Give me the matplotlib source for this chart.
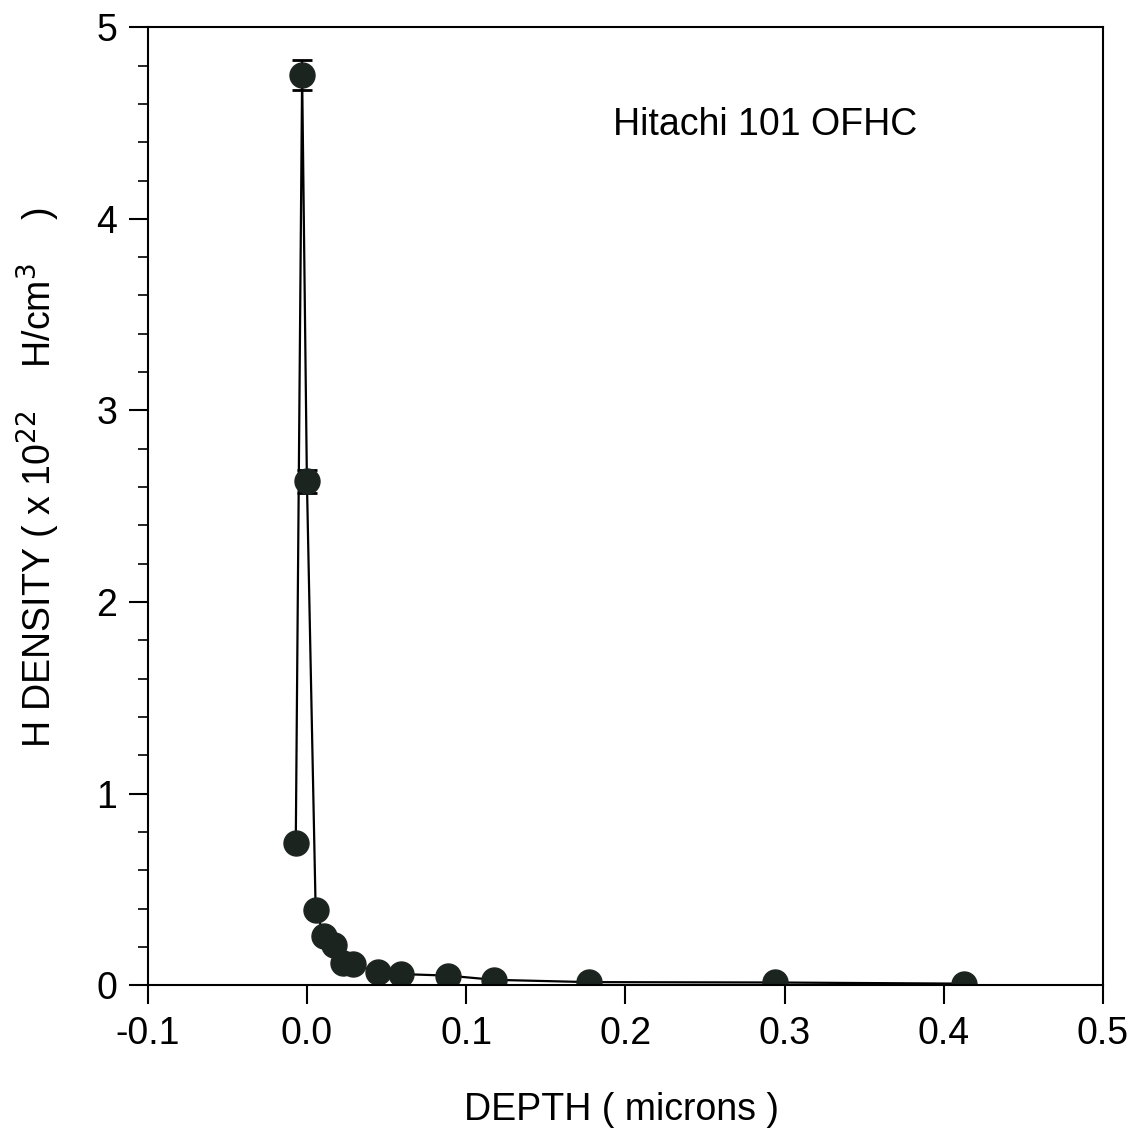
import numpy as np
import matplotlib.pyplot as plt
from matplotlib.ticker import MultipleLocator

plt.rcParams['font.family'] = ['Liberation Sans', 'DejaVu Sans']

# depth (microns) and H density (x 1e22 H/cm^3), in plotted order
depth = [-0.007, -0.003, 0.0, 0.0055, 0.011, 0.017, 0.0225, 0.029,
         0.0445, 0.059, 0.0885, 0.1175, 0.177, 0.294, 0.4125]
density = [0.74, 4.75, 2.63, 0.39, 0.256, 0.21, 0.115, 0.11,
           0.068, 0.058, 0.05, 0.028, 0.016, 0.014, 0.008]
# error bars only visible on the two top points
err_x = [-0.003, 0.0]
err_y = [4.75, 2.63]
err = [0.08, 0.06]

fig = plt.figure(figsize=(11.36, 11.35), dpi=100)
ax = fig.add_axes([0.130, 0.132, 0.841, 0.844])

ax.errorbar(err_x, err_y, yerr=err, fmt='none', ecolor='black',
            elinewidth=1.6, capsize=7.5, capthick=2)
ax.plot(depth, density, color='black', lw=1.6,
        marker='o', ms=18, mfc='#1c2420', mec='#1c2420')

ax.set_xlim(-0.1, 0.5)
ax.set_ylim(0, 5)
ax.yaxis.set_major_locator(MultipleLocator(1))
ax.yaxis.set_minor_locator(MultipleLocator(0.2))
ax.set_xticks(np.arange(-0.1, 0.51, 0.1))
ax.set_xticklabels(['-0.1', '0.0', '0.1', '0.2', '0.3', '0.4', '0.5'])

ax.tick_params(which='major', direction='out', length=14, width=1.5,
               labelsize=27, pad=8)
ax.tick_params(which='minor', direction='out', length=7, width=1.2)
for s in ax.spines.values():
    s.set_linewidth(1.5)

ax.set_xlabel('DEPTH ( microns )', fontsize=27)
ax.xaxis.set_label_coords(0.496, -0.112)
ax.set_ylabel(r'H DENSITY ( x 10$^{\mathsf{22}}$    H/cm$^{\mathsf{3}}$    )', fontsize=27)
ax.yaxis.set_label_coords(-0.09, 0.53)

ax.text(0.2876, 4.49, 'Hitachi 101 OFHC', fontsize=27, ha='center', va='center')

fig.savefig('out.png', dpi=100)
